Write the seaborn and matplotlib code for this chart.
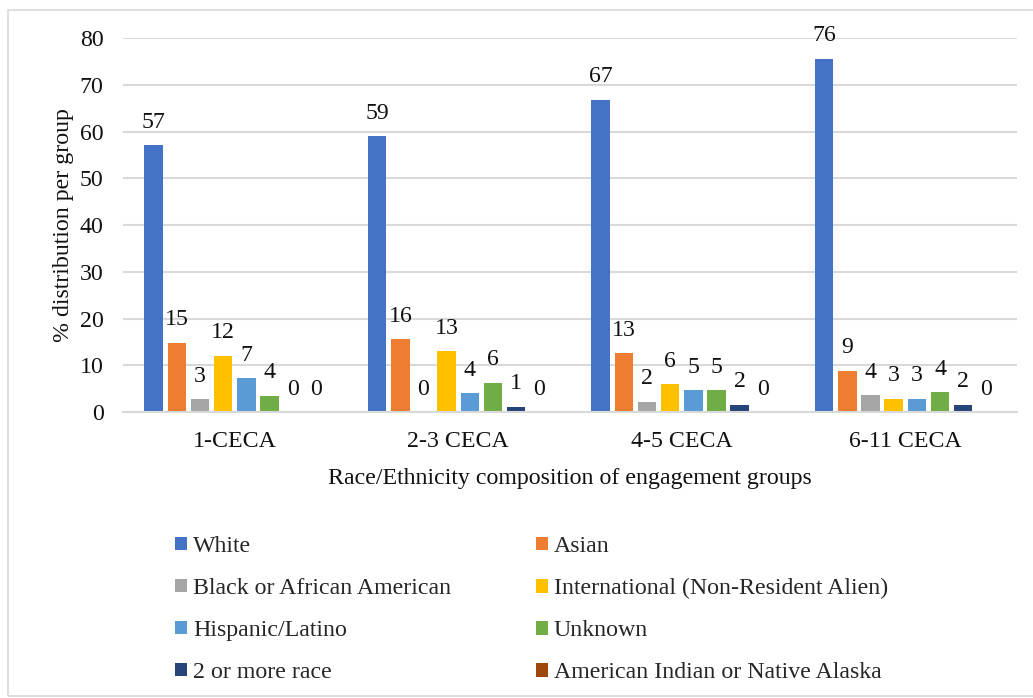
import matplotlib
matplotlib.use("Agg")
import matplotlib.pyplot as plt
import seaborn as sns
import pandas as pd
from matplotlib.patches import Rectangle, Patch

categories = ["1-CECA", "2-3 CECA", "4-5 CECA", "6-11 CECA"]
series_names = ["White", "Asian", "Black or African American",
                "International (Non-Resident Alien)", "Hispanic/Latino",
                "Unknown", "2 or more race", "American Indian or Native Alaska"]
white = [57.1, 59.0, 66.8, 75.6]
asian = [14.8, 15.6, 12.6, 8.8]
black = [2.7, 0.0, 2.2, 3.6]
international = [12.0, 13.0, 5.9, 2.8]
hispanic = [7.2, 4.0, 4.7, 2.8]
unknown = [3.5, 6.3, 4.7, 4.2]
two_or_more = [0.0, 1.1, 1.6, 1.5]
american_indian = [0.0, 0.0, 0.0, 0.0]
colors = ["#4472C4", "#ED7D31", "#A5A5A5", "#FFC000",
          "#5B9BD5", "#70AD47", "#264478", "#9E480E"]

series_values = [white, asian, black, international, hispanic,
                 unknown, two_or_more, american_indian]
rows = []
for name, vals in zip(series_names, series_values):
    for c, v in zip(categories, vals):
        rows.append({"group": c, "race": name, "value": v})
df = pd.DataFrame(rows)

sns.set_theme(style="white")
plt.rcParams["font.family"] = ["Liberation Serif", "DejaVu Serif"]

FS = 17.2
fig = plt.figure(figsize=(10.33, 6.98), dpi=100)
ax = fig.add_axes([123/1033, 1-412/698, (1017-123)/1033, (412-38)/698])

sns.barplot(data=df, x="group", y="value", hue="race", order=categories,
            hue_order=series_names, palette=dict(zip(series_names, colors)),
            saturation=1, width=0.83, gap=0.2, linewidth=0, ax=ax, legend=False)

for cont in ax.containers:
    ax.bar_label(cont, fmt="%.0f", padding=9, fontsize=FS, color="#111111")

ax.set_ylim(0, 80)
ax.set_yticks(range(0, 81, 10))
ax.grid(axis="y", color="#d9d9d9", linewidth=1.5)
ax.set_axisbelow(True)
for s in ["top", "right", "left"]:
    ax.spines[s].set_visible(False)
ax.spines["bottom"].set_color("#d9d9d9")
ax.spines["bottom"].set_linewidth(1.5)
ax.tick_params(axis="y", length=0, pad=14, labelsize=FS, labelcolor="#111111")
ax.tick_params(axis="x", length=0, pad=14, labelsize=FS, labelcolor="#111111")
ax.set_ylabel("% distribution per group", fontsize=FS, color="#111111", labelpad=4)
ax.set_xlabel("Race/Ethnicity composition of engagement groups", fontsize=FS,
              color="#111111", labelpad=11)

handles = [Patch(facecolor=c, edgecolor="none") for c in colors]
order = [0, 2, 4, 6, 1, 3, 5, 7]
fig.legend([handles[i] for i in order], [series_names[i] for i in order],
           ncol=2, loc="upper left", bbox_to_anchor=(175/1033, 1-536/698),
           frameon=False, fontsize=FS, handlelength=0.5, handleheight=0.5,
           handletextpad=0.25, columnspacing=3.55, labelspacing=0.88,
           borderpad=0, borderaxespad=0)

fig.patches.append(Rectangle((8/1033, 2/698), 1.2, 1-12/698, transform=fig.transFigure,
                             fill=False, edgecolor="#d9d9d9", linewidth=1.2))

fig.savefig("out.png", dpi=100)
